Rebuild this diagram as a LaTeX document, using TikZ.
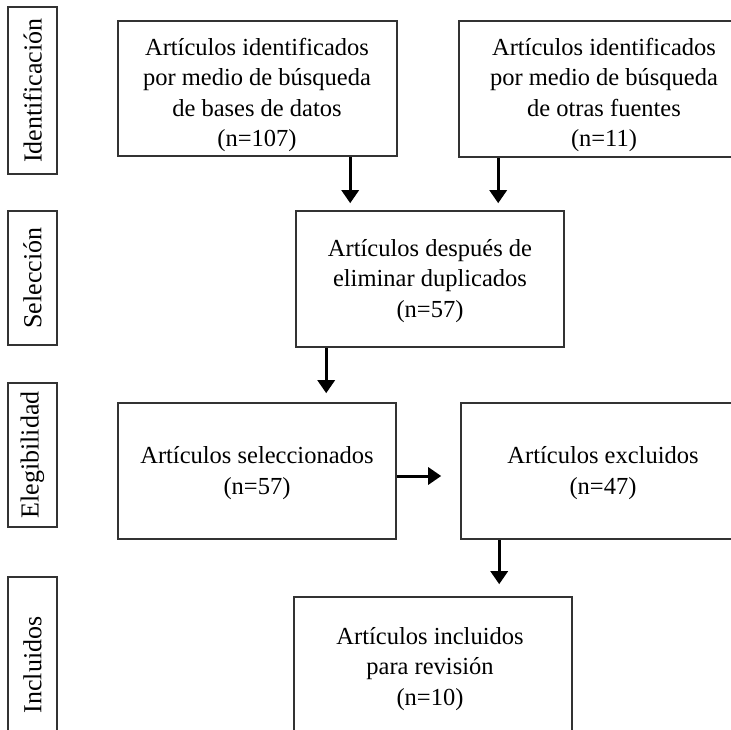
\documentclass[tikz,border=0pt]{standalone}
\usepackage{fontspec}
\setmainfont{Liberation Serif}
\usetikzlibrary{arrows.meta,calc}
\begin{document}
\begin{tikzpicture}[x=1pt,y=-1pt,
  box/.style={draw=black!80, line width=1.6pt, rectangle, inner sep=0pt},
  txt/.style={align=center, font=\fontsize{24.5}{30.5}\selectfont, inner sep=0pt},
  side/.style={draw=black!80, line width=1.6pt, rectangle, inner sep=0pt, minimum width=49pt},
  sidetxt/.style={rotate=90, font=\fontsize{26}{30}\selectfont, inner sep=0pt},
  arr/.style={line width=3pt, -{Triangle[width=17pt,length=13pt]}}]
\useasboundingbox (0,0) rectangle (731,730);
\clip (0,0) rectangle (731,730);
\fill[white] (0,0) rectangle (731,730);

% side boxes
\node[side, minimum height=167pt] (s1) at (32.5,90.5) {};
\node[sidetxt] (s1t) at (s1.center) {Identificación};
\node[side, minimum height=134pt] (s2) at (32.5,278) {};
\node[sidetxt] (s2t) at (s2.center) {Selección};
\node[side, minimum height=144pt] (s3) at (32.5,455) {};
\node[sidetxt] (s3t) at (s3.center) {Elegibilidad};
\node[side, minimum height=176pt] (s4) at (32.5,665) {};
\node[sidetxt] (s4t) at (s4.center) {Incluidos};

% main boxes
\node[box, minimum width=279pt, minimum height=135pt] (A) at (257.5,88.5) {};
\node[txt] (At) at (257,95) {Artículos identificados\\por medio de búsqueda\\de bases de datos\\(n=107)};
\node[box, minimum width=286pt, minimum height=136pt] (B) at (602,89) {};
\node[txt] (Bt) at (604,95) {Artículos identificados\\por medio de búsqueda\\de otras fuentes\\(n=11)};
\node[box, minimum width=268pt, minimum height=136pt] (C) at (430,279) {};
\node[txt] (Ct) at (430,281) {Artículos después de\\eliminar duplicados\\(n=57)};
\node[box, minimum width=278pt, minimum height=136pt] (D) at (257,471) {};
\node[txt] (Dt) at (257,473) {Artículos seleccionados\\(n=57)};
\node[box, minimum width=284pt, minimum height=136pt] (E) at (603,471) {};
\node[txt] (Et) at (603,473) {Artículos excluidos\\(n=47)};
\node[box, minimum width=278pt, minimum height=143pt] (F) at (433,668.5) {};
\node[txt] (Ft) at (430,669) {Artículos incluidos\\para revisión\\(n=10)};

% arrows
\draw[arr, shorten >=7pt] ([xshift=233pt]A.south west) -- ([xshift=233pt]A.south west |- C.north);
\draw[arr, shorten >=7pt] ([xshift=40pt]B.south west) -- ([xshift=40pt]B.south west |- C.north);
\draw[arr, shorten >=9pt] ([xshift=31pt]C.south west) -- ([xshift=31pt]C.south west |- D.north);
\draw[arr, shorten >=19pt] ([yshift=-5pt]D.east) -- ([yshift=-5pt]D.east -| E.west);
\draw[arr, shorten >=12pt] ([xshift=39pt]E.south west) -- ([xshift=39pt]E.south west |- F.north);
\end{tikzpicture}
\end{document}
